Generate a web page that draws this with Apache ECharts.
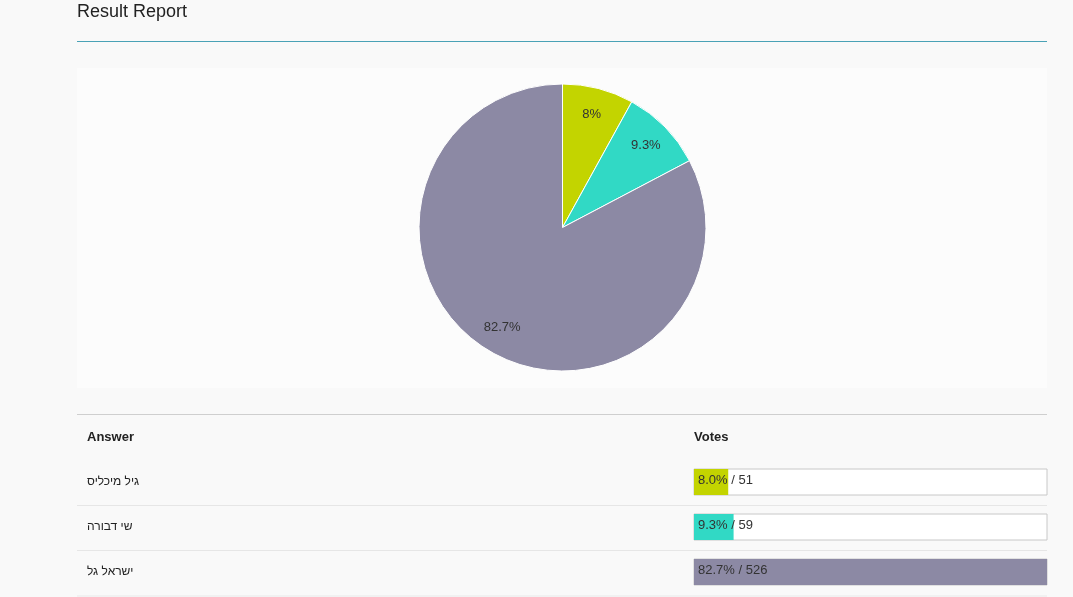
<!DOCTYPE html>
<html>
<head>
<meta charset="utf-8">
<script src="https://cdn.jsdelivr.net/npm/echarts@6/dist/echarts.min.js"></script>
<style>
html,body{margin:0;padding:0;background:#f9f9f9;}
#c{width:1073px;height:597px;}
</style>
</head>
<body>
<div id="c"></div>
<script>
// ---- data ----
var answers = ['גיל מיכליס', 'שי דבורה', 'ישראל גל'];
var votes = [51, 59, 526];
var colors = ['#c3d400', '#31d9c5', '#8c89a4'];
var headers = ['Answer', 'Votes'];
var titleText = 'Result Report';

var total = votes.reduce(function (a, b) { return a + b; }, 0);
var maxVotes = Math.max.apply(null, votes);

var chart = echarts.init(document.getElementById('c'), null, { renderer: 'canvas' });
var FONT = 'Liberation Sans, Arial, sans-serif';

var pieData = answers.map(function (n, i) {
  return { name: n, value: votes[i], itemStyle: { color: colors[i] } };
});

var barData = votes.map(function (v, i) {
  return { value: v, itemStyle: { color: colors[i] } };
});

var option = {
  backgroundColor: '#f9f9f9',
  animation: false,
  graphic: [
    { type: 'text', left: 77, top: 3, style: { text: titleText, font: '18px ' + FONT, fill: '#222' } },
    { type: 'line', shape: { x1: 77, y1: 41.5, x2: 1047, y2: 41.5 }, style: { stroke: '#4aa2b6', lineWidth: 1 } },
    { type: 'rect', z: -10, shape: { x: 77, y: 68, width: 970, height: 320 }, style: { fill: '#fcfcfc' } },
    { type: 'line', shape: { x1: 77, y1: 414.5, x2: 1047, y2: 414.5 }, style: { stroke: '#cfcfcf', lineWidth: 1 } },
    { type: 'text', left: 87, top: 431, style: { text: headers[0], font: 'bold 13px ' + FONT, fill: '#222' } },
    { type: 'text', left: 694, top: 431, style: { text: headers[1], font: 'bold 13px ' + FONT, fill: '#222' } },
    { type: 'line', shape: { x1: 77, y1: 505.5, x2: 1047, y2: 505.5 }, style: { stroke: '#e6e6e6', lineWidth: 1 } },
    { type: 'line', shape: { x1: 77, y1: 550.5, x2: 1047, y2: 550.5 }, style: { stroke: '#e6e6e6', lineWidth: 1 } },
    { type: 'rect', z: -10, shape: { x: 77, y: 595, width: 970, height: 2 }, style: { fill: '#f1f1f1' } }
  ],
  grid: { left: 694, top: 459.5, width: 353, height: 135 },
  xAxis: { type: 'value', min: 0, max: maxVotes, show: false },
  yAxis: {
    type: 'category', data: answers, inverse: true,
    axisLine: { show: false }, axisTick: { show: false }, splitLine: { show: false },
    axisLabel: { align: 'left', margin: 607, fontFamily: FONT, fontSize: 12, color: '#222' }
  },
  series: [
    {
      type: 'pie',
      center: [562.5, 227.5],
      radius: 143.5,
      startAngle: 90,
      clockwise: true,
      silent: true,
      percentPrecision: 1,
      itemStyle: { borderColor: '#ffffff', borderWidth: 1 },
      label: { show: false },
      labelLine: { show: false },
      data: pieData
    },
    {
      type: 'pie',
      center: [562.5, 227.5],
      radius: [84, 143.5],
      startAngle: 90,
      clockwise: true,
      silent: true,
      percentPrecision: 1,
      itemStyle: { color: 'rgba(0,0,0,0)', borderWidth: 0 },
      label: {
        show: true, position: 'inside', fontFamily: FONT, fontSize: 13, color: '#333',
        formatter: function (p) { return p.percent + '%'; }
      },
      labelLine: { show: false },
      emphasis: { disabled: true },
      data: answers.map(function (n, i) { return { name: n, value: votes[i] }; })
    },
    {
      type: 'bar',
      barWidth: 26,
      silent: true,
      showBackground: true,
      backgroundStyle: { color: '#ffffff', borderColor: '#c8c8c8', borderWidth: 1 },
      label: {
        show: true, position: 'insideLeft', distance: 4, offset: [0, -2], fontFamily: FONT, fontSize: 13, color: '#333',
        formatter: function (p) {
          return (votes[p.dataIndex] / total * 100).toFixed(1) + '% / ' + votes[p.dataIndex];
        }
      },
      data: barData
    }
  ]
};
chart.setOption(option);
</script>
</body>
</html>
